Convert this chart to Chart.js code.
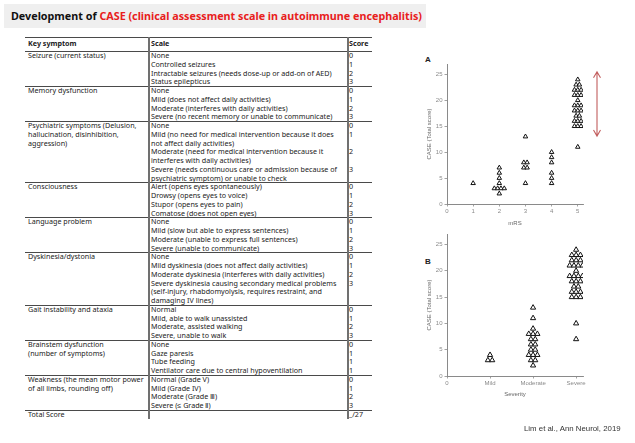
<!DOCTYPE html>
<html><head><meta charset="utf-8">
<script src="https://cdn.jsdelivr.net/npm/chart.js@4/dist/chart.umd.min.js"></script>
<style>
html,body{margin:0;padding:0;}
body{width:635px;height:443px;background:#fff;position:relative;overflow:hidden;font-family:"Noto Sans",sans-serif;}
#titlebar{position:absolute;left:4px;top:4px;width:422px;height:24px;background:#efefef;}
#title{position:absolute;left:7px;top:0;line-height:24px;font-weight:bold;white-space:nowrap;color:#111;}
#title .red{color:#e8201c;}
#tbl{position:absolute;left:0;top:0;width:400px;height:443px;color:#222;}
.hl{position:absolute;height:0;border-top:1.3px solid #4a4a4a;}
.vl{position:absolute;width:0;border-left:2px solid #707070;}
.tx{position:absolute;white-space:pre;}
.lbl{position:absolute;font-family:"Liberation Sans",Arial,sans-serif;font-weight:bold;font-size:8px;color:#222;}
#cite{position:absolute;left:524px;top:424px;font-family:"Liberation Sans",Arial,sans-serif;white-space:nowrap;color:#333;}
.cw{position:absolute;}
</style></head>
<body>
<div id="titlebar"><div id="title">Development of <span class="red">CASE (clinical assessment scale in autoimmune encephalitis)</span></div></div>
<div id="tbl"></div>
<div class="lbl" style="left:425px;top:55px;">A</div>
<div class="lbl" style="left:425px;top:257px;">B</div>
<div class="cw" style="left:420px;top:55px;width:200px;height:175px;"><canvas id="chartA"></canvas></div>
<div class="cw" style="left:420px;top:225px;width:200px;height:177px;"><canvas id="chartB"></canvas></div>
<div id="cite">Lim et al., Ann Neurol, 2019</div>
<script>
// ---------- DATA ----------
const tableHeader = ["Key symptom", "Scale", "Score"];
const symptoms = [
  "Seizure (current status)",
  "Memory dysfunction",
  "Psychiatric symptoms (Delusion,\nhallucination, disinhibition,\naggression)",
  "Consciousness",
  "Language problem",
  "Dyskinesia/dystonia",
  "Gait instability and ataxia",
  "Brainstem dysfunction\n(number of symptoms)",
  "Weakness (the mean motor power\nof all limbs, rounding off)"
];
const scaleItems = [
  ["None","Controlled seizures","Intractable seizures (needs dose-up or add-on of AED)","Status epilepticus"],
  ["None","Mild (does not affect daily activities)","Moderate (interferes with daily activities)","Severe (no recent memory or unable to communicate)"],
  ["None","Mild (no need for medical intervention because it does\nnot affect daily activities)","Moderate (need for medical intervention because it\ninterferes with daily activities)","Severe (needs continuous care or admission because of\npsychiatric symptom) or unable to check"],
  ["Alert (opens eyes spontaneously)","Drowsy (opens eyes to voice)","Stupor (opens eyes to pain)","Comatose (does not open eyes)"],
  ["None","Mild (slow but able to express sentences)","Moderate (unable to express full sentences)","Severe (unable to communicate)"],
  ["None","Mild dyskinesia (does not affect daily activities)","Moderate dyskinesia (interferes with daily activities)","Severe dyskinesia causing secondary medical problems\n(self-injury, rhabdomyolysis, requires restraint, and\ndamaging IV lines)"],
  ["Normal","Mild, able to walk unassisted","Moderate, assisted walking","Severe, unable to walk"],
  ["None","Gaze paresis","Tube feeding","Ventilator care due to central hypoventilation"],
  ["Normal (Grade V)","Mild (Grade IV)","Moderate (Grade \u2162)","Severe (\u2264 Grade \u2161)"]
];
const itemScores = [[0,1,2,3],[0,1,2,3],[0,1,2,3],[0,1,2,3],[0,1,2,3],[0,1,2,3],[0,1,2,3],[0,1,1,1],[0,1,2,3]];
const totalRow = ["Total Score", "_/27"];

const mrsGroups = [1,2,3,4,5];
const caseByMrs = [
  [4],
  [7,6,5,4,3,3,3,3,2],
  [13,8,8,7,7,4],
  [10,9,8,6,5,4],
  [24,23,23,22,22,22,21,21,21,20,19,19,19,18,18,18,17,17,16,16,16,15,15,15,11]
];
const mrsTicks = [0,1,2,3,4,5];
const severityLabels = ["0","Mild","Moderate","Severe"];
const severityGroups = [1,2,3];
const caseBySeverity = [
  [4,3,3],
  [13,11,9,8,8,8,7,7,6,6,5,5,4,4,4,3,3,2],
  [24,23,23,23,22,22,22,21,21,21,21,20,19,19,19,19,18,18,18,17,17,16,16,16,15,15,15,10,7]
];
const yTicks = [0,5,10,15,20,25];
const arrowRange = [13.1, 25.5];

// ---------- text fitting ----------
function measure(text, font){
  const c = document.createElement('canvas').getContext('2d');
  c.font = font; return c.measureText(text).width;
}
const titleEl = document.getElementById('title');
const titleText = titleEl.textContent;
const tw = measure(titleText, 'bold 10px "Noto Sans"');
titleEl.style.fontSize = (10*411/tw).toFixed(2)+'px';
const citeEl = document.getElementById('cite');
citeEl.style.fontSize = (10*97/measure(citeEl.textContent,'10px "Liberation Sans"')).toFixed(2)+'px';
const tfs = 10*181/measure(scaleItems[0][2], '10px "Noto Sans"');

// ---------- table ----------
const tbl = document.getElementById('tbl');
const L = {left:25, c1:148, c2:347, right:372, top:37, headBottom:51, lh:8.75};
function add(cls, css, text){
  const d = document.createElement('div'); d.className = cls;
  Object.assign(d.style, css); if(text!==undefined) d.textContent = text; tbl.appendChild(d); return d;
}
function hline(y, w){ add('hl', {left:L.left+'px', top:y+'px', width:(L.right-L.left)+'px', borderTopWidth:(w||1.3)+'px'}); }
const tstyle = {fontSize:tfs.toFixed(2)+'px', lineHeight:L.lh+'px'};
hline(L.top, 1.6);
add('tx', Object.assign({left:(L.left+3)+'px', top:(L.top+1)+'px'}, tstyle, {fontWeight:'bold', lineHeight:'10px'}), tableHeader[0]);
add('tx', Object.assign({left:(L.c1+3)+'px', top:(L.top+1)+'px'}, tstyle, {fontWeight:'bold', lineHeight:'10px'}), tableHeader[1]);
add('tx', Object.assign({left:(L.c2+2)+'px', top:(L.top+1)+'px'}, tstyle, {fontWeight:'bold', lineHeight:'10px'}), tableHeader[2]);
let y = L.headBottom;
for(let r=0;r<symptoms.length;r++){
  hline(y);
  add('tx', Object.assign({left:(L.left+3)+'px', top:y+'px'}, tstyle), symptoms[r]);
  let yy = y;
  scaleItems[r].forEach((s,i)=>{
    const n = s.split('\n').length;
    add('tx', Object.assign({left:(L.c1+3)+'px', top:yy+'px'}, tstyle), s);
    add('tx', Object.assign({left:(L.c2+2)+'px', top:yy+'px'}, tstyle), String(itemScores[r][i]));
    yy += n*L.lh;
  });
  y = yy;
}
hline(y);
add('tx', Object.assign({left:(L.left+3)+'px', top:y+'px'}, tstyle), totalRow[0]);
add('tx', Object.assign({left:(L.c2+2)+'px', top:y+'px'}, tstyle), totalRow[1]);
const tblBottom = y + L.lh;
[L.c1, L.c2].forEach(x=>add('vl', {left:x+'px', top:L.top+'px', height:(tblBottom-L.top)+'px'}));

// ---------- charts ----------
const swarm = {
  id:'swarm',
  beforeDatasetsDraw(chart, args, opts){
    const xs = chart.scales.x;
    chart.data.datasets.forEach((ds, di)=>{
      const meta = chart.getDatasetMeta(di);
      const counts = {}, idx = {};
      ds.data.forEach(p=>{ const k=p.x+'|'+p.y; counts[k]=(counts[k]||0)+1; });
      meta.data.forEach((el,i)=>{
        const p = ds.data[i]; const k=p.x+'|'+p.y;
        const j = idx[k]||0; idx[k]=j+1;
        el.x = xs.getPixelForValue(p.x) + (j-(counts[k]-1)/2)*opts.gap;
      });
    });
  }
};
const arrowPlugin = {
  id:'rangeArrow',
  afterDraw(chart, args, opts){
    if(!opts.range) return;
    const ctx = chart.ctx, ys = chart.scales.y;
    const x = chart.chartArea.right + opts.dx;
    const y1 = ys.getPixelForValue(opts.range[1]), y2 = ys.getPixelForValue(opts.range[0]);
    ctx.save(); ctx.strokeStyle = opts.color; ctx.lineWidth = 1.1;
    ctx.beginPath(); ctx.moveTo(x,y1); ctx.lineTo(x,y2);
    ctx.moveTo(x-3.5,y1+6); ctx.lineTo(x,y1); ctx.lineTo(x+3.5,y1+6);
    ctx.moveTo(x-3.5,y2-6); ctx.lineTo(x,y2); ctx.lineTo(x+3.5,y2-6);
    ctx.stroke(); ctx.restore();
  }
};
const tickFont = {family:'"Liberation Sans", Arial, sans-serif', size:6};
function makeChart(id, groups, values, xMax, xTickVals, xLabelFn, xTitle, radius, gap, pad, range){
  const pts = [];
  groups.forEach((g,gi)=>values[gi].forEach(v=>pts.push({x:g, y:v})));
  return new Chart(document.getElementById(id), {
    type:'scatter',
    data:{datasets:[{data:pts, pointStyle:'triangle', pointRadius:radius, pointHoverRadius:radius,
      borderColor:'#111', borderWidth:1, backgroundColor:'#fff'}]},
    plugins:[swarm, arrowPlugin],
    options:{
      responsive:true, maintainAspectRatio:false, animation:false, events:[],
      layout:{padding:{top:9, right:37, left:0, bottom:0}},
      plugins:{legend:{display:false}, tooltip:{enabled:false},
        swarm:{gap:gap}, rangeArrow:{range:range, dx:14, color:'#c25e5e'}},
      scales:{
        x:{type:'linear', min:0, max:xMax,
          afterBuildTicks:(s)=>{ s.ticks = xTickVals.map(v=>({value:v})); },
          afterFit:(s)=>{ s.height = 26; },
          ticks:{font:tickFont, color:'#8a8a8a', padding:1, maxRotation:0, autoSkip:false,
            callback:(v)=>xLabelFn(v)},
          grid:{display:true, drawOnChartArea:false, drawTicks:true, tickLength:2.5, color:'#8a8a8a', lineWidth:0.8},
          border:{display:true, color:'#8a8a8a', width:1},
          title:{display:true, text:xTitle, font:tickFont, color:'#666', padding:{top:0,bottom:pad}}
        },
        y:{type:'linear', min:0, max:27,
          afterBuildTicks:(s)=>{ s.ticks = yTicks.map(v=>({value:v})); },
          afterFit:(s)=>{ s.width = 27; },
          ticks:{font:tickFont, color:'#8a8a8a', padding:2},
          grid:{display:true, drawOnChartArea:false, drawTicks:true, tickLength:2.5, color:'#8a8a8a', lineWidth:0.8},
          border:{display:true, color:'#8a8a8a', width:1},
          title:{display:true, text:'CASE (Total score)', font:tickFont, color:'#666', padding:{top:6,bottom:0}}
        }
      }
    }
  });
}
makeChart('chartA', mrsGroups, caseByMrs, 5.2, mrsTicks, v=>String(v), 'mRS', 2.6, 3.3, 3, arrowRange);
makeChart('chartB', severityGroups, caseBySeverity, 3.16, [0,1,2,3], v=>severityLabels[v], 'Severity', 3, 4.3, 4, null);
</script>
</body></html>
